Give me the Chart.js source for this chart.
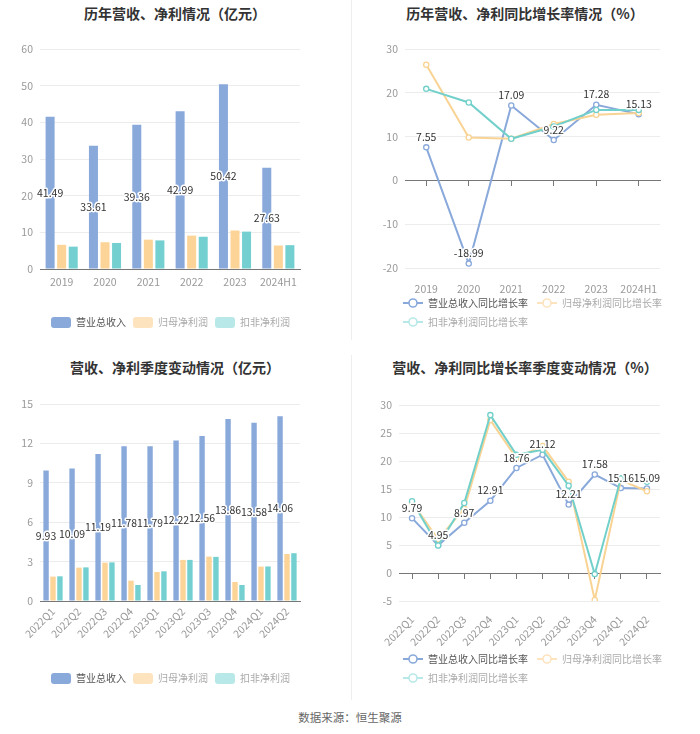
<!DOCTYPE html>
<html><head><meta charset="utf-8">
<script src="https://cdn.jsdelivr.net/npm/chart.js@4/dist/chart.umd.min.js"></script>
<style>
html,body{margin:0;padding:0;background:#fff}
body{width:700px;height:734px;position:relative;overflow:hidden;font-family:"Noto Sans CJK SC","Noto Sans",sans-serif}
canvas{position:absolute}
.title{position:absolute;width:350px;text-align:center;font-weight:bold;font-size:14px;line-height:20px;color:#333}
.legend{position:absolute;font-size:10px;line-height:14px;}
.item{position:absolute;display:flex;align-items:center;white-space:nowrap}
.sw{width:20px;height:11px;border-radius:3px;margin-right:5px}
.vline{position:absolute;width:1px;background:#eeeeee}
.footer{position:absolute;left:0;width:700px;top:709px;text-align:center;font-size:11.5px;color:#666}
</style></head>
<body>
<div class="vline" style="left:351px;top:0;height:340px"></div>
<div class="vline" style="left:351px;top:355px;height:345px"></div>

<div class="title" style="left:0;top:3px">历年营收、净利情况（亿元）</div>
<div class="title" style="left:350px;top:3px">历年营收、净利同比增长率情况（%）</div>
<div class="title" style="left:0;top:357px">营收、净利季度变动情况（亿元）</div>
<div class="title" style="left:350px;top:357px">营收、净利同比增长率季度变动情况（%）</div>

<div style="position:absolute;left:0;top:0;width:350px;height:345px"><canvas id="c1"></canvas></div>
<div style="position:absolute;left:350px;top:0;width:350px;height:345px"><canvas id="c2"></canvas></div>
<div style="position:absolute;left:0;top:350px;width:350px;height:350px"><canvas id="c3"></canvas></div>
<div style="position:absolute;left:350px;top:350px;width:350px;height:350px"><canvas id="c4"></canvas></div>

<div id="lg1"></div><div id="lg2"></div><div id="lg3"></div><div id="lg4"></div>
<div class="footer">数据来源：恒生聚源</div>

<script>
// ---------- data ----------
const yearLabels = ['2019','2020','2021','2022','2023','2024H1'];
const yearRevenue = [41.49,33.61,39.36,42.99,50.42,27.63];
const yearNetProfit = [6.6,7.3,8.0,9.1,10.5,6.4];
const yearDeductedProfit = [6.1,7.1,7.8,8.8,10.2,6.5];

const yearRevenueGrowth = [7.55,-18.99,17.09,9.22,17.28,15.13];
const yearNetGrowth = [26.4,9.8,9.5,12.9,15.0,15.4];
const yearDeductedGrowth = [20.9,17.8,9.5,12.3,16.1,16.1];

const quarterLabels = ['2022Q1','2022Q2','2022Q3','2022Q4','2023Q1','2023Q2','2023Q3','2023Q4','2024Q1','2024Q2'];
const quarterRevenue = [9.93,10.09,11.19,11.78,11.79,12.22,12.56,13.86,13.58,14.06];
const quarterNetProfit = [1.86,2.54,2.92,1.55,2.21,3.13,3.38,1.45,2.62,3.58];
const quarterDeductedProfit = [1.88,2.56,2.94,1.22,2.26,3.13,3.36,1.22,2.63,3.64];

const quarterRevenueGrowth = [9.79,4.95,8.97,12.91,18.76,21.12,12.21,17.58,15.16,15.09];
const quarterNetGrowth = [12.6,6.0,11.5,27.3,20.5,22.7,16.3,-4.8,16.6,14.6];
const quarterDeductedGrowth = [12.8,4.9,12.5,28.2,21.1,22.0,15.6,-0.2,16.9,16.3];

const barNames = ['营业总收入','归母净利润','扣非净利润'];
const lineNames = ['营业总收入同比增长率','归母净利润同比增长率','扣非净利润同比增长率'];

// ---------- styles ----------
const BLUE='#8aa9db', ORANGE='#fdd497', TEAL='#74d0d0';
const LBLUE='#8aa9db', LORANGE='#f9d393', LTEAL='#72d0cb';
const DIM_ORANGE='#fde4bf', DIM_TEAL='#b9e8e8';
const FONT='"Noto Sans CJK SC","Noto Sans",sans-serif';
Chart.defaults.font.family = FONT;
Chart.defaults.font.size = 10;
Chart.defaults.animation = false;

const valueLabels = {
  id:'valueLabels',
  afterDatasetsDraw(chart){
    const ctx = chart.ctx;
    chart.data.datasets.forEach((ds,i)=>{
      if(!ds.showValues) return;
      const meta = chart.getDatasetMeta(i);
      ctx.save();
      ctx.font = '10.5px ' + FONT;
      ctx.textAlign = 'center';
      meta.data.forEach((el,j)=>{
        const txt = ds.data[j].toFixed(2);
        let y;
        if(meta.type==='bar'){ y=(el.y+el.base)/2; ctx.textBaseline='middle'; }
        else { y=el.y-5; ctx.textBaseline='bottom'; }
        ctx.lineWidth=3; ctx.lineJoin='round'; ctx.strokeStyle='#fff';
        ctx.strokeText(txt, el.x, y);
        ctx.fillStyle='#333';
        ctx.fillText(txt, el.x, y);
      });
      ctx.restore();
    });
  }
};

function yScale(min,max,step,width){
  return {
    min:min,max:max,
    ticks:{stepSize:step,color:'#999',padding:7,font:{size:10.5}},
    grid:{color:'#ececec',drawTicks:false},
    border:{display:false},
    afterFit:s=>{s.width=width;}
  };
}

function barChart(id,labels,a,b,c,yopt,pad,xh,rotate){
  return new Chart(document.getElementById(id),{
    type:'bar',
    data:{labels:labels,datasets:[
      {label:barNames[0],data:a,backgroundColor:BLUE,showValues:true,categoryPercentage:0.8,barPercentage:0.78},
      {label:barNames[1],data:b,backgroundColor:ORANGE,categoryPercentage:0.8,barPercentage:0.78},
      {label:barNames[2],data:c,backgroundColor:TEAL,categoryPercentage:0.8,barPercentage:0.78}
    ]},
    options:{
      responsive:true,maintainAspectRatio:false,
      layout:{padding:pad},
      plugins:{legend:{display:false},tooltip:{enabled:false}},
      scales:{
        x:{grid:{display:true,drawOnChartArea:false,drawTicks:false},border:{color:'#777'},
           ticks:{color:'#999',padding:rotate?4:7,font:{size:10.5},maxRotation:rotate?45:0,minRotation:rotate?45:0,autoSkip:false},
           afterFit:s=>{s.height=xh;}},
        y:yOpt(yopt)
      }
    },
    plugins:[valueLabels]
  });
}
function yOpt(o){return yScale(o[0],o[1],o[2],o[3]);}

function lineDs(label,data,color,order,show){
  return {label:label,data:data,borderColor:color,backgroundColor:color,borderWidth:2,
    pointRadius:2.6,pointBorderWidth:1.3,pointBackgroundColor:'#fff',pointBorderColor:color,
    tension:0,order:order,showValues:show};
}

function lineChart(id,labels,a,b,c,yopt,pad,xh,rotate){
  return new Chart(document.getElementById(id),{
    type:'line',
    data:{labels:labels,datasets:[
      lineDs(lineNames[0],a,LBLUE,2,true),
      lineDs(lineNames[1],b,LORANGE,1,false),
      lineDs(lineNames[2],c,LTEAL,0,false)
    ]},
    options:{
      responsive:true,maintainAspectRatio:false,
      layout:{padding:pad},
      plugins:{legend:{display:false},tooltip:{enabled:false}},
      scales:{
        x:{offset:true,grid:{display:false},border:{display:false},
           ticks:{color:'#999',padding:rotate?4:7,font:{size:10.5},maxRotation:rotate?45:0,minRotation:rotate?45:0,autoSkip:false},
           afterFit:s=>{s.height=xh;}},
        x2:{type:'category',position:{y:0},offset:true,
           grid:{offset:false,drawOnChartArea:false,drawTicks:true,tickLength:5,color:'#777'},
           border:{color:'#777'},ticks:{display:false}},
        y:yOpt(yopt)
      }
    },
    plugins:[valueLabels]
  });
}

barChart('c1',yearLabels,yearRevenue,yearNetProfit,yearDeductedProfit,[0,60,10,40],
  {top:49,right:50,bottom:46,left:0},30,false);
lineChart('c2',yearLabels,yearRevenueGrowth,yearNetGrowth,yearDeductedGrowth,[-20,30,10,55],
  {top:49,right:40,bottom:47,left:0},30,false);
barChart('c3',quarterLabels,quarterRevenue,quarterNetProfit,quarterDeductedProfit,[0,15,3,40],
  {top:54,right:50,bottom:39,left:0},60,true);
lineChart('c4',quarterLabels,quarterRevenueGrowth,quarterNetGrowth,quarterDeductedGrowth,[-5,30,5,49],
  {top:55,right:40,bottom:39,left:0},60,true);

// ---------- HTML legends ----------
function barLegend(id,left,top){
  const el=document.getElementById(id); el.className='legend';
  el.style.left=left+'px'; el.style.top=top+'px';
  const cols=[BLUE,DIM_ORANGE,DIM_TEAL], tc=['#555','#aaa','#aaa'], xs=[0,82,164];
  barNames.forEach((n,i)=>{
    const it=document.createElement('div'); it.className='item'; it.style.left=xs[i]+'px'; it.style.top='0px';
    it.innerHTML='<div class="sw" style="background:'+cols[i]+'"></div><span style="color:'+tc[i]+'">'+n+'</span>';
    el.appendChild(it);
  });
}
function icon(color){
  return '<svg width="20" height="12" style="margin-right:5px"><line x1="0" y1="6" x2="20" y2="6" stroke="'+color+'" stroke-width="2"/><circle cx="10" cy="6" r="4" fill="#fff" stroke="'+color+'" stroke-width="1.6"/></svg>';
}
function lineLegend(id,left,top){
  const el=document.getElementById(id); el.className='legend';
  el.style.left=left+'px'; el.style.top=top+'px';
  const cols=[LBLUE,DIM_ORANGE,DIM_TEAL], tc=['#555','#aaa','#aaa'];
  const pos=[[0,0],[134,0],[0,19]];
  lineNames.forEach((n,i)=>{
    const it=document.createElement('div'); it.className='item';
    it.style.left=pos[i][0]+'px'; it.style.top=pos[i][1]+'px';
    it.innerHTML=icon(cols[i])+'<span style="color:'+tc[i]+'">'+n+'</span>';
    el.appendChild(it);
  });
}
barLegend('lg1',51,315);
lineLegend('lg2',403,296);
barLegend('lg3',51,671);
lineLegend('lg4',403,652);
</script>
</body></html>
